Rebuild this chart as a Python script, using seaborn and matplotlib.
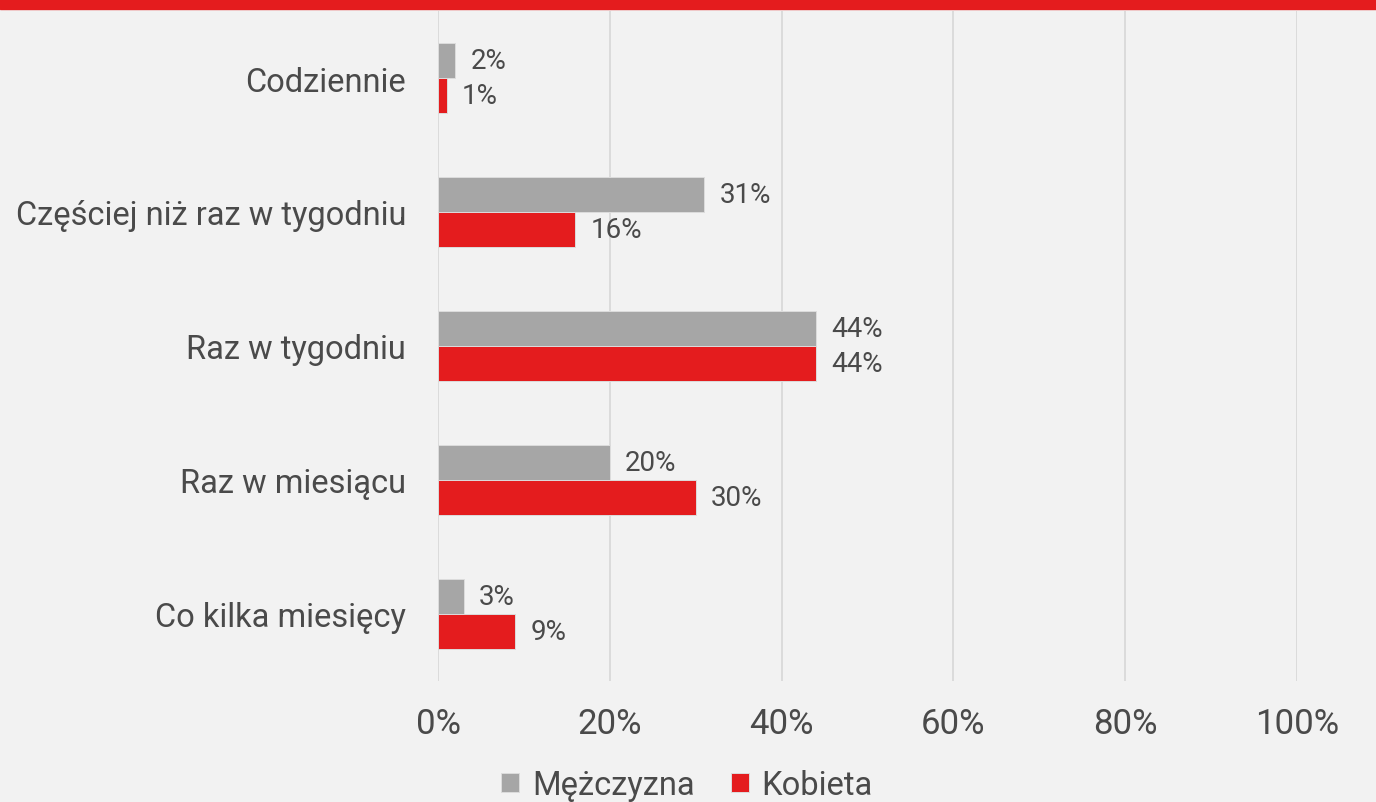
import matplotlib
matplotlib.use("Agg")
import matplotlib.pyplot as plt
from matplotlib.patches import Rectangle
import pandas as pd
import seaborn as sns

categories = ["Codziennie", "Częściej niż raz w tygodniu", "Raz w tygodniu",
              "Raz w miesiącu", "Co kilka miesięcy"]
series = ["Mężczyzna", "Kobieta"]
men = [2, 31, 44, 20, 3]
women = [1, 16, 44, 30, 9]
x_ticks = [0, 20, 40, 60, 80, 100]
x_tick_labels = ["0%", "20%", "40%", "60%", "80%", "100%"]

BG = "#f2f2f2"
RED = "#e41c1e"
GREY = "#a6a6a6"
TEXT = "#4a4a4a"

df = pd.DataFrame({
    "category": categories * 2,
    "series": [series[0]] * len(categories) + [series[1]] * len(categories),
    "value": men + women,
})

sns.set_theme(style="white")
plt.rcParams["font.family"] = ["Roboto", "DejaVu Sans"]

fig = plt.figure(figsize=(13.76, 8.03), dpi=100, facecolor=BG)
ax = fig.add_axes([438 / 1376, 1 - 682 / 803, (1297 - 438) / 1376, 670 / 803])
ax.set_facecolor(BG)

# red band across the top
fig.patches.append(Rectangle((0, 1 - 10 / 803), 1, 10 / 803, transform=fig.transFigure,
                             color=RED, zorder=0))

sns.barplot(data=df, y="category", x="value", hue="series", order=categories,
            hue_order=series, palette=[GREY, RED], saturation=1, orient="h",
            width=0.52, gap=0, edgecolor="#dcdcdc", linewidth=0.7, ax=ax,
            legend=True, zorder=3)

ax.set_xlim(0, 100)
ax.set_ylim(len(categories) - 0.5, -0.5)
ax.set_xticks(x_ticks)
ax.set_xticklabels(x_tick_labels, fontsize=25, color=TEXT)
ax.tick_params(axis="x", length=0, pad=19)
ax.tick_params(axis="y", length=0, pad=23)
for lbl in ax.get_yticklabels():
    lbl.set_fontsize(23.5)
    lbl.set_color(TEXT)
ax.set_xlabel("")
ax.set_ylabel("")
ax.xaxis.grid(True, color="#d9d9d9", linewidth=1.3, zorder=0)
ax.set_axisbelow(True)
for s in ax.spines.values():
    s.set_visible(False)

# value labels at bar ends
for container in ax.containers:
    ax.bar_label(container, labels=[f"{v:.0f}%" for v in container.datavalues],
                 padding=11, fontsize=20, color=TEXT)

handles, labels = ax.get_legend_handles_labels()
ax.legend_.remove()
fig.legend(handles, labels, loc="center", bbox_to_anchor=(687 / 1376, 1 - 786 / 803),
           ncol=2, frameon=False, fontsize=23.5, handlelength=0.55, handleheight=0.55,
           handletextpad=0.4, columnspacing=1.1, labelcolor=TEXT, borderpad=0)

fig.savefig("out.png", dpi=100, facecolor=BG)
